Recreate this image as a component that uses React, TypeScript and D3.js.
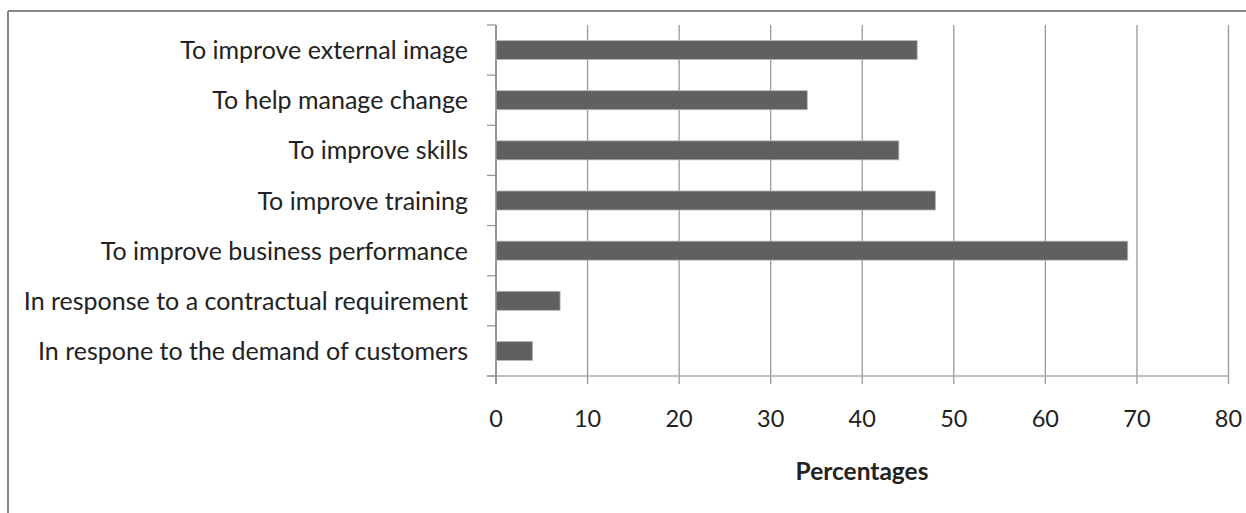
import React from "react";
import * as d3 from "d3";

const categories = [
  "To improve external image",
  "To help manage change",
  "To improve skills",
  "To improve training",
  "To improve business performance",
  "In response to a contractual requirement",
  "In respone to the demand of customers",
];
const values = [46, 34, 44, 48, 69, 7, 4];
const xTicks = [0, 10, 20, 30, 40, 50, 60, 70, 80];
const xTitle = "Percentages";

const W = 1246;
const H = 513;
const left = 496;
const right = 1228.5;
const top = 25;
const bottom = 376;
const FONT = "Lato, 'Open Sans', sans-serif";

export default function App() {
  const x = d3.scaleLinear().domain([0, 80]).range([left, right]);
  const y = d3.scaleBand<string>().domain(categories).range([top, bottom]).paddingInner(0.62).paddingOuter(0.31);
  const band = d3.scaleBand<string>().domain(categories).range([top, bottom]);
  const boundaries = categories.map((c) => band(c)!).concat([bottom]);

  return (
    <svg width={W} height={H} style={{ position: "absolute", left: 0, top: 0 }}>
      <rect x={0} y={0} width={W} height={H} fill="#fff" />
      <line x1={8} y1={11} x2={W} y2={11} stroke="#888" strokeWidth={2} />
      <line x1={8} y1={11} x2={8} y2={H} stroke="#888" strokeWidth={2} />
      {/* gridlines */}
      {xTicks.map((t) => (
        <line key={"g" + t} x1={x(t)} x2={x(t)} y1={top} y2={bottom + 8} stroke="#999" strokeWidth={1.3} />
      ))}
      {/* x axis line */}
      <line x1={left - 9} x2={right} y1={bottom} y2={bottom} stroke="#aaa" strokeWidth={1.5} />
      {/* category ticks */}
      {boundaries.map((b, i) => (
        <line key={"c" + i} x1={left - 9} x2={left} y1={b} y2={b} stroke="#999" strokeWidth={1.3} />
      ))}
      <line x1={left} x2={left} y1={top} y2={bottom + 8} stroke="#888" strokeWidth={1.5} />
      {/* bars */}
      {categories.map((c, i) => (
        <rect
          key={c}
          x={x(0)}
          y={y(c)!}
          width={x(values[i]) - x(0)}
          height={y.bandwidth()}
          fill="#606060"
          stroke="#bbb"
          strokeWidth={0.8}
        />
      ))}
      {/* category labels */}
      {categories.map((c) => (
        <text
          key={"l" + c}
          x={468}
          y={band(c)! + band.bandwidth() / 2 + 9}
          textAnchor="end"
          fontFamily={FONT}
          fontSize={25}
          fill="#222"
        >
          {c}
        </text>
      ))}
      {/* x tick labels */}
      {xTicks.map((t) => (
        <text
          key={"t" + t}
          x={x(t)}
          y={427}
          textAnchor="middle"
          fontFamily={FONT}
          fontSize={23.5}
          fill="#222"
        >
          {t}
        </text>
      ))}
      <text x={862} y={480} textAnchor="middle" fontFamily={FONT} fontSize={24.5} fontWeight="bold" fill="#222">
        {xTitle}
      </text>
    </svg>
  );
}
